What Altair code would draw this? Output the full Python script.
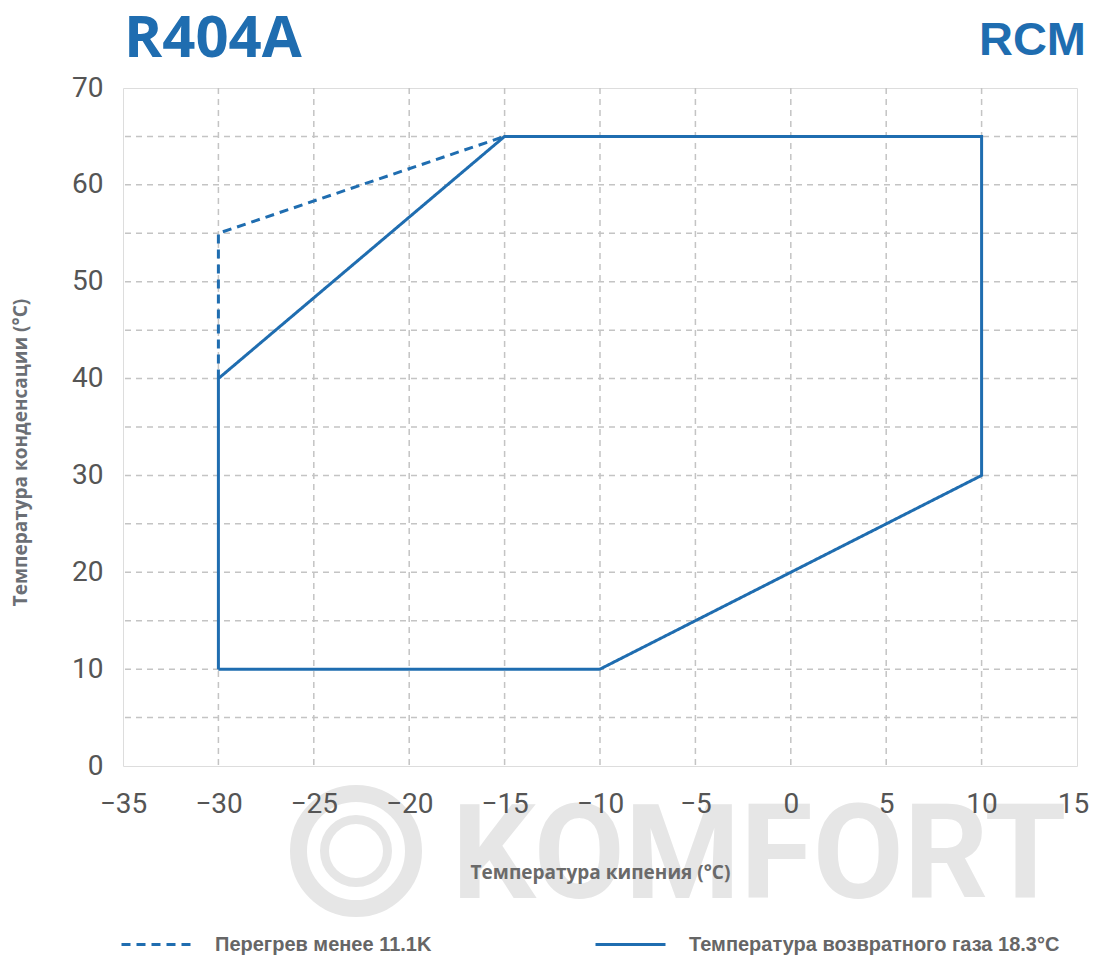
import altair as alt
import pandas as pd

# ---- data ----
solid_x = [-30, -30, -15, 10, 10, -10, -30]
solid_y = [10, 40, 65, 65, 30, 10, 10]
dash_x = [-30, -30, -15]
dash_y = [40, 55, 65]
LBL_DASH = "Перегрев менее 11.1K"
LBL_SOLID = "Температура возвратного газа 18.3°C"
x_ticks = [-35, -30, -25, -20, -15, -10, -5, 0, 5, 10, 15]
y_ticks = [0, 10, 20, 30, 40, 50, 60, 70]
x_grid = [-30, -25, -20, -15, -10, -5, 0, 5, 10]
y_grid = [5, 10, 15, 20, 25, 30, 35, 40, 45, 50, 55, 60, 65]

BLUE = "#1f6db0"
WM = "#e6e6e6"
W, H = 954, 678

rows = []
for i, (x, y) in enumerate(zip(dash_x, dash_y)):
    rows.append({"x": x, "y": y, "s": LBL_DASH, "o": i})
for i, (x, y) in enumerate(zip(solid_x, solid_y)):
    rows.append({"x": x, "y": y, "s": LBL_SOLID, "o": i})
df = pd.DataFrame(rows)

xs = alt.Scale(domain=[-35, 15], nice=False, zero=False)
ys = alt.Scale(domain=[0, 70], nice=False, zero=False)

x_axis = alt.Axis(values=x_ticks, grid=False, domain=False, ticks=False,
                  labelFlush=False, labelOverlap=False,
                  labelOffset=alt.ConditionalAxisNumber(
                      condition={"test": "datum.value == 15", "value": -4}, value=0),
                  labelFont="Roboto", labelFontSize=28, labelColor="#555555",
                  labelPadding=24, title="Температура кипения (°C)",
                  titleFont="Open Sans", titleFontSize=19, titleFontWeight="bold",
                  titleColor="#6a6a6a", titlePadding=45, zindex=1)
y_axis = alt.Axis(values=y_ticks, grid=False, domain=False, ticks=False,
                  labelFlush=False, labelOverlap=False,
                  labelFont="Roboto", labelFontSize=28, labelColor="#555555",
                  labelPadding=20, title="Температура конденсации (°C)",
                  titleFont="Open Sans", titleFontSize=19, titleFontWeight="bold",
                  titleColor="#6b6f75", titleX=20 - 123, titleY=452 - 88,
                  titleAlign="center", titleBaseline="middle", titleAngle=270,
                  zindex=1)

# watermark
wm_text = alt.Chart(pd.DataFrame({"t": ["KOMFORT"]})).mark_text(
    font="Roboto", fontWeight="bold", fontSize=132, color=WM,
    align="center", baseline="alphabetic"
).encode(x=alt.value(759 - 123), y=alt.value(898 - 88), text="t:N")
wm_ring1 = alt.Chart(pd.DataFrame({"a": [1]})).mark_point(
    shape="circle", filled=False, size=13225, strokeWidth=17, color=WM, opacity=1
).encode(x=alt.value(356 - 123), y=alt.value(851 - 88))
wm_ring2 = alt.Chart(pd.DataFrame({"a": [1]})).mark_point(
    shape="circle", filled=False, size=3969, strokeWidth=9, color=WM, opacity=1
).encode(x=alt.value(356 - 123), y=alt.value(851 - 88))

gx = alt.Chart(pd.DataFrame({"g": x_grid})).mark_rule(
    color="#c4c4c4", strokeWidth=1.5, strokeDash=[6, 5]
).encode(x=alt.X("g:Q", scale=xs, axis=x_axis))
gy = alt.Chart(pd.DataFrame({"g": y_grid})).mark_rule(
    color="#c4c4c4", strokeWidth=1.5, strokeDash=[6, 5]
).encode(y=alt.Y("g:Q", scale=ys, axis=y_axis))

lines = alt.Chart(df).mark_line(color=BLUE, strokeWidth=3).encode(
    x=alt.X("x:Q", scale=xs, axis=x_axis),
    y=alt.Y("y:Q", scale=ys, axis=y_axis),
    order="o:Q",
    detail="s:N",
    strokeDash=alt.StrokeDash(
        "s:N",
        scale=alt.Scale(domain=[LBL_DASH, LBL_SOLID], range=[[9, 6], [1, 0]]),
        legend=alt.Legend(
            title=None, orient="none", legendX=-3, legendY=820, direction="horizontal",
            symbolType="stroke", symbolSize=4900, symbolStrokeWidth=3,
            symbolStrokeColor=BLUE, labelFont="Liberation Sans", labelFontWeight="bold",
            labelFontSize=20, labelColor="#666666", labelOffset=22, columnPadding=157,
            labelLimit=600, gridAlign="none",
        ),
    ),
)

title_left = alt.Chart(pd.DataFrame({"t": ["R404A"]})).mark_text(
    font="Open Sans", fontWeight="bold", fontSize=58, color=BLUE,
    align="left", baseline="middle"
).encode(x=alt.value(124 - 123), y=alt.value(40 - 88), text="t:N")
title_right = alt.Chart(pd.DataFrame({"t": ["RCM"]})).mark_text(
    font="Liberation Sans", fontWeight="bold", fontSize=47, color=BLUE,
    align="right", baseline="middle"
).encode(x=alt.value(1086 - 123), y=alt.value(41 - 88), text="t:N")

chart = alt.layer(
    wm_ring1, wm_ring2, wm_text, gx, gy, lines, title_left, title_right
).properties(
    width=W, height=H,
    autosize=alt.AutoSizeParams(type="none"),
    padding={"left": 115, "top": 80, "right": 13, "bottom": 190},
).configure_view(
    stroke="#bbbbbb", strokeWidth=3
).configure(background="white")

chart.save("out.html", embed_options={"renderer": "svg", "actions": False})
